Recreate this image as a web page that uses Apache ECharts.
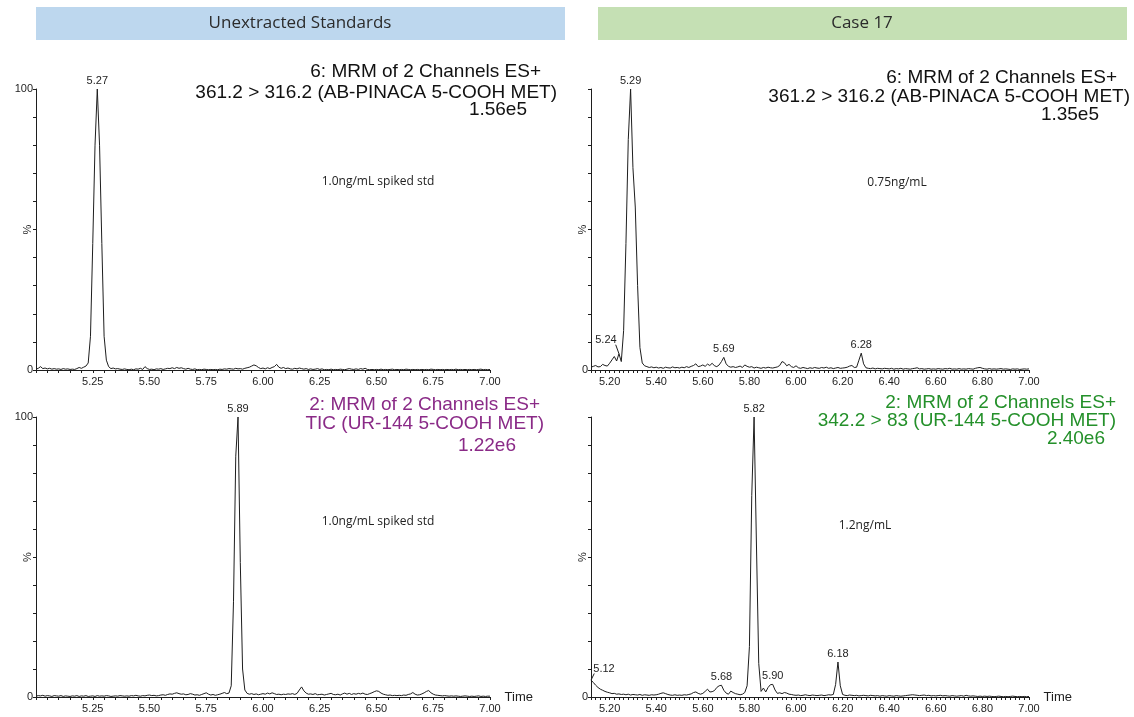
<!DOCTYPE html>
<html>
<head>
<meta charset="utf-8">
<script src="https://cdn.jsdelivr.net/npm/echarts@6/dist/echarts.min.js"></script>
<style>
  html, body { margin: 0; padding: 0; background: #ffffff; }
  #chart { width: 1134px; height: 717px; }
</style>
</head>
<body>
<div id="chart"></div>
<script>
// Acquisition grid: one intensity reading (% of base peak) every 0.01 min.
const SAMPLE_STEP = 0.01;

// Unextracted standard, AB-PINACA 5-COOH metabolite (361.2 > 316.2), 5.00-7.00 min
const stdAbStart = 5.00;
const stdAbSignal = [
  0.3,0.6,1.2,0.5,0.7,0.4,0.6,0.3,0.5,0.3,
  0.4,0.2,0.5,0.3,0.4,0.2,0.3,0.2,0.5,0.9,
  0.6,1.0,1.4,2.5,12,45,80,100,80,45,
  12,3.5,1.2,0.5,0.7,0.4,0.5,0.3,0.2,0.4,
  0.2,0.1,0.3,0.1,0.4,0.3,0.6,0.2,1.2,0.5,
  0.2,0.3,0.1,0.4,0.3,0.5,0.2,0.4,0.6,0.5,
  0.8,0.5,0.9,0.6,0.8,0.5,0.3,0.6,0.3,0.2,
  0.4,0.1,0.2,0.1,0.3,0.2,0.1,0.2,0.1,0.2,
  0.1,0.3,0.2,0.4,0.3,0.5,0.4,0.3,0.6,0.4,
  0.5,0.3,0.6,0.8,1.0,1.4,1.8,1.5,0.9,0.5,
  0.7,0.4,0.8,0.5,0.9,1.2,2.0,1.0,0.6,0.9,
  0.5,0.7,0.4,0.3,0.6,0.4,0.7,0.5,0.3,0.5,
  0.2,0.4,0.2,0.3,0.5,0.2,0.4,0.1,0.2,0.1,
  0.3,0.1,0.2,0.1,0.3,0.2,0.1,0.3,0.5,0.3,
  0.2,0.4,0.2,0.5,0.3,0.6,0.2,0.1,0.2,0.1,
  0.2,0.1,0.3,0.1,0.2,0.1,0.2,0.3,0.1,0.2,
  0.1,0.2,0.1,0.3,0.2,0.1,0.2,0.1,0.2,0.1,
  0.2,0.1,0.2,0.1,0.3,0.2,0.1,0.2,0.1,0.2,
  0.1,0.2,0.1,0.2,0.1,0.3,0.1,0.2,0.1,0.2,
  0.1,0.2,0.1,0.2,0.1,0.2,0.3,0.1,0.2,0.1,
  0.2
];
const stdAbPeaks = [5.27];

// Case 17, AB-PINACA 5-COOH metabolite (361.2 > 316.2), 5.12-7.00 min
const caseAbStart = 5.12;
const caseAbSignal = [
  1.0,1.3,1.6,1.1,1.2,2.0,1.6,1.4,
  2.4,3.6,4.8,3.2,5.8,3.0,14,45,82,100,
  72,58,30,8,2.5,1.5,1.2,0.9,1.1,0.8,
  1.0,0.7,0.9,0.6,1.0,0.8,0.7,1.1,0.8,0.9,
  0.7,1.0,0.8,1.2,0.9,1.3,1.6,2.2,1.2,1.4,
  1.8,1.3,2.1,1.6,2.4,1.5,1.2,1.8,3.0,4.5,
  2.2,1.3,1.0,1.2,0.9,1.1,1.4,0.9,1.8,1.3,
  1.0,1.2,0.7,1.0,0.8,0.6,0.9,0.7,1.0,0.8,
  0.7,0.9,1.1,1.6,3.0,2.6,1.5,2.0,1.2,0.9,
  1.5,0.8,0.6,0.9,0.7,0.5,0.8,0.6,0.9,0.7,
  0.6,0.9,0.7,1.0,0.6,0.8,0.5,0.7,0.9,0.6,
  0.7,0.8,1.0,1.4,1.6,0.9,1.0,3.5,6.0,2.2,
  0.8,0.6,0.5,0.7,0.4,0.6,0.5,0.4,0.6,0.5,
  0.4,0.6,0.3,0.5,0.4,0.6,0.3,0.5,0.4,0.3,
  0.5,0.6,0.8,0.4,0.5,0.3,0.4,0.5,0.3,0.4,
  0.3,0.5,0.4,0.3,0.5,0.4,0.6,0.3,0.4,0.3,
  0.5,0.3,0.4,0.3,0.5,0.4,0.3,0.6,0.8,0.9,
  0.6,0.4,0.3,0.5,0.3,0.4,0.3,0.4,0.5,0.3,
  0.4,0.3,0.2,0.4,0.3,0.4,0.2,0.3,0.4,0.3,
  0.4
];
const caseAbPeaks = [5.24, 5.29, 5.69, 6.28];

// Unextracted standard, UR-144 5-COOH metabolite (TIC), 5.00-7.00 min
const stdUrStart = 5.00;
const stdUrSignal = [
  0.3,0.5,0.4,0.6,0.3,0.5,0.4,0.2,0.5,0.4,
  0.3,0.5,0.2,0.4,0.3,0.2,0.4,0.3,0.5,0.2,
  0.4,0.3,0.5,0.2,0.3,0.4,0.2,0.5,0.3,0.4,
  0.3,0.5,0.4,0.2,0.3,0.4,0.3,0.5,0.4,0.3,
  0.4,0.3,0.5,0.4,0.6,0.4,0.3,0.5,0.4,0.6,
  0.7,0.5,0.6,0.4,0.5,0.7,0.8,0.6,0.9,1.1,
  1.0,1.3,1.5,1.2,1.0,1.1,0.8,0.9,1.2,1.0,
  0.7,0.8,0.6,0.9,1.2,1.5,1.0,0.7,0.9,0.6,
  0.8,1.0,1.3,1.6,1.2,1.4,4.0,34,86,100,
  48,10,2.5,1.3,1.0,1.2,0.9,1.1,0.8,1.0,
  1.2,1.0,1.4,1.1,1.5,1.2,0.9,1.0,0.8,1.0,
  0.9,1.1,1.0,1.2,0.9,1.3,2.5,3.6,2.2,1.4,
  1.0,1.1,0.9,1.2,0.8,0.9,1.0,0.7,0.9,1.1,
  1.3,0.9,0.8,1.0,0.7,1.1,1.4,1.0,1.3,0.9,
  1.2,1.0,1.3,1.1,1.4,1.0,0.9,1.2,1.5,1.9,
  2.2,2.0,1.4,1.0,0.8,0.6,0.7,0.5,0.6,0.5,
  0.6,0.5,0.7,0.6,0.9,1.1,1.6,1.0,0.7,0.8,
  1.1,1.5,2.0,2.3,1.5,1.0,0.7,0.6,0.5,0.4,
  0.5,0.4,0.3,0.4,0.3,0.4,0.3,0.2,0.3,0.4,
  0.3,0.2,0.3,0.2,0.3,0.4,0.2,0.3,0.2,0.3,
  0.3
];
const stdUrPeaks = [5.89];

// Case 17, UR-144 5-COOH metabolite (342.2 > 83), 5.12-7.00 min
const caseUrStart = 5.12;
const caseUrSignal = [
  6.0,5.2,4.2,3.4,2.8,2.4,2.0,1.7,
  1.5,1.2,1.3,1.0,1.1,0.9,1.0,0.8,1.0,0.7,
  0.9,0.8,0.7,0.9,0.6,0.8,0.7,0.6,0.8,0.7,
  0.8,1.0,1.3,1.5,1.2,0.9,0.7,0.6,0.8,0.6,
  0.7,0.6,0.8,0.7,0.9,1.1,1.6,1.8,1.3,1.0,
  1.3,2.0,2.8,1.8,1.9,2.3,3.4,4.0,4.2,2.4,
  1.4,1.0,2.1,1.6,1.2,1.0,0.8,1.0,1.6,4.0,
  18,72,100,55,12,2.0,3.2,1.8,3.4,4.4,
  4.5,2.5,1.3,1.5,1.2,1.6,1.4,1.0,0.9,0.7,
  0.6,0.7,0.5,0.6,0.8,0.6,0.5,0.7,0.6,0.5,
  0.6,0.7,0.5,0.6,0.8,0.7,0.9,4.5,12.5,4.0,
  0.9,0.6,0.5,0.7,0.6,0.5,0.6,0.4,0.5,0.6,
  0.5,0.4,0.6,0.5,0.4,0.5,0.3,0.5,0.4,0.3,
  0.5,0.4,0.3,0.5,0.4,0.3,0.4,0.5,0.6,0.7,
  0.8,0.7,0.6,0.5,0.6,0.7,0.5,0.6,0.4,0.5,
  0.4,0.5,0.6,0.4,0.5,0.4,0.3,0.5,0.4,0.3,
  0.4,0.5,0.3,0.6,0.4,0.3,0.4,0.3,0.2,0.3,
  0.2,0.3,0.2,0.3,0.2,0.1,0.2,0.3,0.2,0.1,
  0.2,0.1,0.2,0.3,0.2,0.1,0.2,0.1,0.2,0.1,
  0.2
];
const caseUrPeaks = [5.12, 5.68, 5.82, 5.90, 6.18];

// Time axis labels
const stdTimeTicks = [5.25, 5.50, 5.75, 6.00, 6.25, 6.50, 6.75, 7.00];
const caseTimeTicks = [5.20, 5.40, 5.60, 5.80, 6.00, 6.20, 6.40, 6.60, 6.80, 7.00];

// ---------------------------------------------------------------------------

function toPairs(start, values) {
  return values.map((v, i) => [+(start + i * SAMPLE_STEP).toFixed(2), v]);
}
function valueAt(start, values, t) {
  return values[Math.round((t - start) / SAMPLE_STEP)];
}

const AXIS_FONT = '"Liberation Sans", Arial, sans-serif';
const INK = '#1e1e1e';

// tickStep: spacing of the small tick marks (min is a multiple of it)
const panels = [
  { start: stdAbStart,  signal: stdAbSignal,  peaks: stdAbPeaks,  min: 5.00, ticks: stdTimeTicks,  tickStep: 0.05,
    grid: { left: 36, top: 89, width: 454, height: 281 }, showTop: true,  time: false },
  { start: caseAbStart, signal: caseAbSignal, peaks: caseAbPeaks, min: 5.12, ticks: caseTimeTicks, tickStep: 0.02,
    grid: { left: 591, top: 89, width: 438, height: 281 }, showTop: false, time: false },
  { start: stdUrStart,  signal: stdUrSignal,  peaks: stdUrPeaks,  min: 5.00, ticks: stdTimeTicks,  tickStep: 0.05,
    grid: { left: 36, top: 417, width: 454, height: 280 }, showTop: true,  time: true },
  { start: caseUrStart, signal: caseUrSignal, peaks: caseUrPeaks, min: 5.12, ticks: caseTimeTicks, tickStep: 0.02,
    grid: { left: 591, top: 417, width: 438, height: 280 }, showTop: false, time: true }
];

// Label placement for peaks tagged off to one side with a short leader line
const sideLabels = {
  '5.24': { offset: [-13, -6], lead: [-0.014, 3.2] },
  '5.12': { offset: [13, -3],  lead: [0.014, 2.4] }
};

const grids = [], xAxes = [], yAxes = [], series = [];

panels.forEach((p, i) => {
  grids.push(Object.assign({ outerBoundsMode: 'none', containLabel: false }, p.grid));

  xAxes.push({
    type: 'value', gridIndex: i, position: 'bottom', min: p.min, max: 7.0, interval: p.tickStep,
    name: p.time ? 'Time' : '', nameLocation: 'end', nameGap: 5,
    nameTextStyle: { fontFamily: AXIS_FONT, fontSize: 13, color: INK },
    axisLine: { show: true, onZero: false, lineStyle: { color: INK, width: 1 } },
    axisTick: { show: true, length: 3, lineStyle: { color: INK } },
    axisLabel: { show: true, customValues: p.ticks, formatter: v => v.toFixed(2),
                 fontFamily: AXIS_FONT, fontSize: 11, color: INK, margin: 6 },
    splitLine: { show: false }
  });

  yAxes.push({
    type: 'value', gridIndex: i, min: 0, max: 100, interval: 10,
    name: '%', nameLocation: 'middle', nameGap: 3, nameRotate: 90, nameMoveOverlap: false,
    nameTextStyle: { fontFamily: AXIS_FONT, fontSize: 11, color: INK },
    axisLine: { show: true, lineStyle: { color: INK, width: 1 } },
    axisTick: { show: true, length: 3, lineStyle: { color: INK } },
    axisLabel: {
      fontFamily: AXIS_FONT, fontSize: 11, color: INK, margin: 3,
      formatter: v => (v === 0 ? '0' : (v === 100 && p.showTop ? '100' : ''))
    },
    splitLine: { show: false }
  });

  const markData = p.peaks.map(t => {
    const key = t.toFixed(2);
    const item = { coord: [t, valueAt(p.start, p.signal, t)], name: key };
    if (sideLabels[key]) item.label = { offset: sideLabels[key].offset };
    return item;
  });
  const leaders = p.peaks.filter(t => sideLabels[t.toFixed(2)]).map(t => {
    const s = sideLabels[t.toFixed(2)];
    const v = valueAt(p.start, p.signal, t);
    return [{ coord: [t, v] }, { coord: [t + s.lead[0], v + s.lead[1]] }];
  });

  series.push({
    type: 'line', xAxisIndex: i, yAxisIndex: i,
    data: toPairs(p.start, p.signal),
    showSymbol: false, smooth: false, animation: false, silent: true,
    lineStyle: { color: INK, width: 1 },
    markPoint: {
      symbol: 'circle', symbolSize: 1, silent: true, animation: false,
      itemStyle: { color: 'rgba(0,0,0,0)' },
      label: { show: true, position: 'top', distance: 2, formatter: '{b}',
               fontFamily: AXIS_FONT, fontSize: 11, color: INK },
      data: markData
    },
    markLine: {
      symbol: ['none', 'none'], silent: true, animation: false,
      label: { show: false },
      lineStyle: { color: INK, width: 1, type: 'solid' },
      emphasis: { disabled: true },
      data: leaders
    }
  });
});

// Header bars, channel descriptions and sample notes
const TITLE_FONT = '19px "Liberation Sans", Arial, sans-serif';
const NOTE_FONT = '12px "Open Sans", sans-serif';
function txt(text, x, y, font, fill, align) {
  return { type: 'text', x: x, y: y, silent: true,
           style: { text: text, font: font, fill: fill,
                    align: align, verticalAlign: 'middle',
                    textAlign: align, textVerticalAlign: 'middle' } };
}
const PURPLE = '#8a2a87';
const GREEN = '#24902a';

const graphic = [
  { type: 'rect', silent: true, shape: { x: 36, y: 7, width: 529, height: 33 }, style: { fill: '#bdd7ee' } },
  { type: 'rect', silent: true, shape: { x: 598, y: 7, width: 529, height: 33 }, style: { fill: '#c5e0b4' } },
  txt('Unextracted Standards', 300, 23, '17px "Open Sans", sans-serif', '#2b2b2b', 'center'),
  txt('Case 17', 862, 23, '17px "Open Sans", sans-serif', '#2b2b2b', 'center'),

  txt('6: MRM of 2 Channels ES+', 541, 72, TITLE_FONT, '#111', 'right'),
  txt('361.2 > 316.2 (AB-PINACA 5-COOH MET)', 557, 93, TITLE_FONT, '#111', 'right'),
  txt('1.56e5', 527, 110, TITLE_FONT, '#111', 'right'),

  txt('6: MRM of 2 Channels ES+', 1117, 78, TITLE_FONT, '#111', 'right'),
  txt('361.2 > 316.2 (AB-PINACA 5-COOH MET)', 1130, 97, TITLE_FONT, '#111', 'right'),
  txt('1.35e5', 1099, 115, TITLE_FONT, '#111', 'right'),

  txt('2: MRM of 2 Channels ES+', 540, 405, TITLE_FONT, PURPLE, 'right'),
  txt('TIC (UR-144 5-COOH MET)', 544, 424, TITLE_FONT, PURPLE, 'right'),
  txt('1.22e6', 516, 446, TITLE_FONT, PURPLE, 'right'),

  txt('2: MRM of 2 Channels ES+', 1116, 403, TITLE_FONT, GREEN, 'right'),
  txt('342.2 > 83 (UR-144 5-COOH MET)', 1116, 421, TITLE_FONT, GREEN, 'right'),
  txt('2.40e6', 1105, 439, TITLE_FONT, GREEN, 'right'),

  txt('1.0ng/mL spiked std', 378, 182, NOTE_FONT, '#222', 'center'),
  txt('0.75ng/mL', 897, 183, NOTE_FONT, '#222', 'center'),
  txt('1.0ng/mL spiked std', 378, 522, NOTE_FONT, '#222', 'center'),
  txt('1.2ng/mL', 865, 526, NOTE_FONT, '#222', 'center')
];

const chart = echarts.init(document.getElementById('chart'), null, { renderer: 'canvas' });
chart.setOption({
  backgroundColor: '#ffffff',
  animation: false,
  grid: grids,
  xAxis: xAxes,
  yAxis: yAxes,
  series: series,
  graphic: graphic
});
</script>
</body>
</html>
